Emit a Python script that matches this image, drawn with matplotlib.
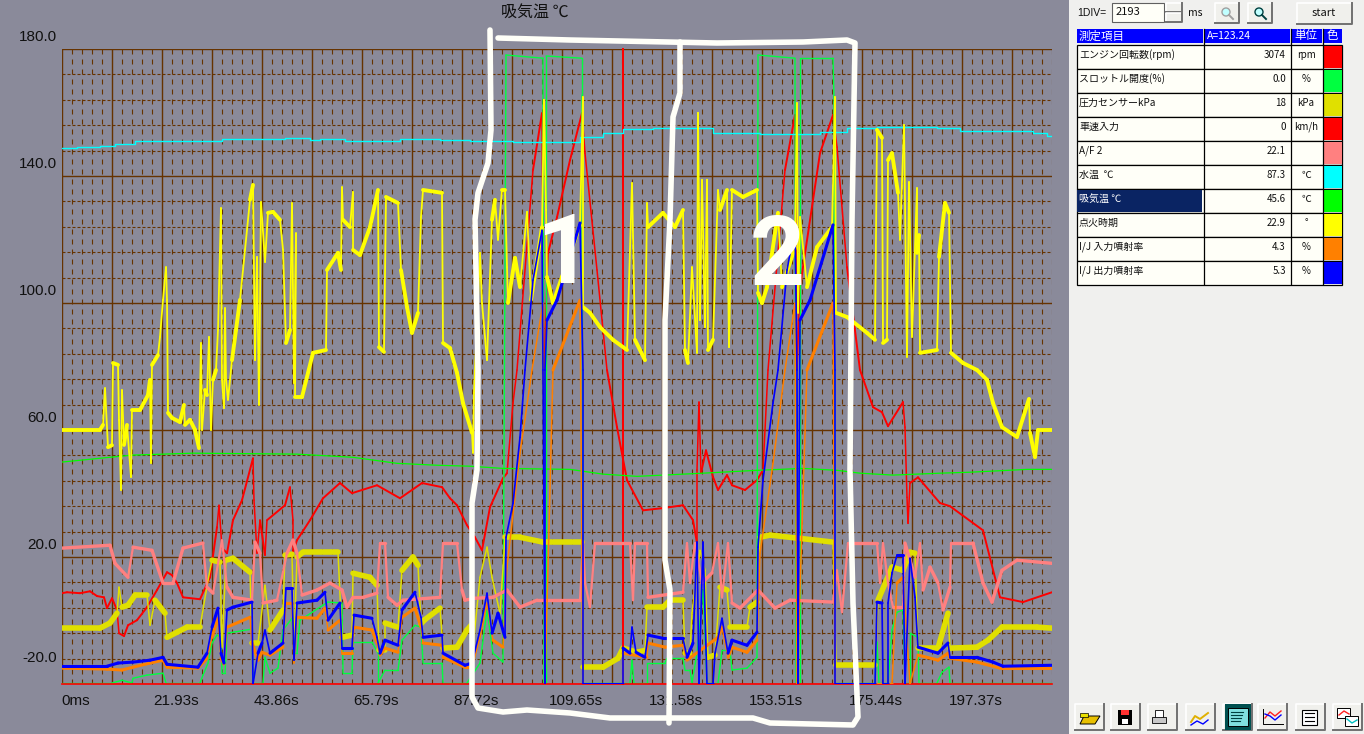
import numpy as np
import matplotlib
matplotlib.use('Agg')
import matplotlib.pyplot as plt
from matplotlib.collections import LineCollection
from matplotlib.patches import Rectangle, Polygon, Circle

JP = ['Noto Sans CJK JP', 'DejaVu Sans']
NARROW = ['Liberation Sans', 'DejaVu Sans']
plt.rcParams['font.family'] = JP

# one DIV on the logger is 2193 ms, traces are read in DIV / value
DIV_S = 2.193

ign_t = [0,3.8,4.1,4.3,4.6,5,5.1,5.6,5.7,5.9,6,6.2,6.5,6.9,7,7.8,8.6,8.8,8.9,9,9.6,9.8,10.1,10.4,10.5,10.6,11,11.8,12.2,12.3,12.8,13.3,13.7,13.9,14,14.3,14.5,14.7,14.9,15.1,15.4,15.6,15.9,16,16.2,16.3,16.4,16.6,17,17.4,17.8,18.3,18.8,19.1,19.3,19.5,19.7,19.9,20.3,20.6,21.1,21.8,22.1,22.4,22.8,23,23.2,23.4,23.3,24,25.1,26.4,26.5,27.6,27.9,28,28.1,28.8,29.1,29.1,29.8,30.8,31.6,31.7,32.2,32.4,33.6,33.9,34.5,35,35.6,35.9,36.1,38,38.1,38.8,39.5,40.1,41,41.1,41.2,41.8,42,42.5,43,43.3,43.6,44,44.3,44.5,44.6,45.3,45.8,46.5,46.9,48,48.2,48.4,48.5,49.1,50,51.3,51.8,52.1,52.1,52.8,53.8,55.1,56.5,57,57.3,58.3,58.5,58.6,60.1,61.3,62.1,62.3,62.6,63,63.5,63.6,63.8,64,64.3,64.5,64.6,65.1,65.6,65.8,66.5,66.7,67,68.1,69.5,69.6,70,70.5,71.6,72,73.3,73.5,73.6,73.8,74.5,75.5,77,77.3,77.4,78.5,80.5,81.3,81.5,82,82.1,82.5,82.6,83,83.6,83.8,84.2,84.5,84.7,85,85.5,85.5,85.7,85.8,87.5,87.7,88.3,88.7,88.9,90.1,91.5,92.5,93.1,94,95.5,96.7,96.8,97.3,97.6,99]
ign_v = [60,60,61.6,73.2,54.6,55.2,81.1,80.5,63.2,41.1,72.6,55.3,61.6,45.2,66.3,66.3,71,75.8,49.6,80.5,83.6,89.3,101,111.3,101,65.4,63.8,62.5,67.9,61.6,63.2,60,54.3,87.4,60,72.6,71,89.3,60,75.8,78.9,91.5,129.9,75.8,66.9,98.4,75.8,69.5,82,91.5,101,116.7,132.5,137.2,82,114.5,67.9,131.8,112.9,128.4,128.7,126.2,116.8,87.4,91.5,131.5,74.8,122,70.4,70.4,84.3,85.2,110.4,115.8,110.4,136.5,126.2,123.9,135,116.7,115.1,123.9,135.6,86.1,84.6,133.4,131.5,110.4,98.7,90.6,96.9,127.1,135.6,134.7,87.4,85.8,78,68.5,59.1,52.8,71.7,115.8,100,82,126.2,132.5,119.9,135.6,135.6,111.3,100,114.2,105,128.7,101,123.9,164,129.3,108.2,100,108.2,119.9,124.6,164.9,98.7,96.9,92.4,88.4,85.2,137.8,88.4,82,131.5,123.9,128.4,123.9,129.3,85.2,81.1,111.3,84.3,159.9,94.6,138.8,92.4,138.8,85.2,88.4,135.6,129.3,135.6,86.1,135.6,133.4,135.6,103.2,100,105,128.4,105,117.6,163,96.9,127.1,105,117.6,123.9,164.9,96.9,95.6,90.6,88.4,154.5,152,87.4,88.4,145,147.2,134.7,119.9,156.1,83,138.1,89.3,136.2,115.8,121.4,84.3,85.2,114.5,131.5,128.4,84.3,81.1,78.9,75.8,68.5,60.9,57.8,69.8,59.1,51.5,60,60]

water_t = [0,1.5,3.8,5.3,7.3,13.8,16,22.3,24.8,25.8,28.3,33.8,37.8,40.8,45.1,47.8,51.8,54.1,56.1,59.1,65.1,69.8,73.1,75.8,78.5,81.5,87.5,89.8,95.1,97.1,98.5,99]
water_v = [148.8,149.1,149.4,150,151,151,151.6,151.9,151.3,151.6,151,151.6,151.3,151,150.7,150.7,152.2,153.5,154.8,155.1,153.5,153.2,153.2,153.8,155.1,155.4,155.1,154.1,154.1,153.5,152.6,152.6]

intake_t = [0,3.8,7.1,13.1,23.5,29.1,33.5,37.5,40.8,44.1,50.8,54.1,57.5,64.1,69.5,74.1,77.5,79.8,83.1,87.8,90.8,96.5,99]
intake_v = [49.9,51.1,52.1,52.7,52.4,51.4,49.5,48.9,48.6,47.9,47.6,46.1,45.4,46.4,47.3,47.9,47.3,46.4,45.8,46.4,46.7,47.6,47.6]

rpm_t = [0,0.5,1.8,2.8,3.5,4.2,4.5,5,5.5,5.7,6.2,6.6,7.5,8.5,9.5,10.5,11,11.5,12.1,13.8,14.8,15.5,15.7,16,16.5,17.1,18,19.1,19.2,19.5,19.8,20.3,20.5,22.3,22.8,23.1,23.1,23.5,24.8,26.1,27.8,29,31.5,33.8,36,38,38.8,39.5,40.5,41.3,42,42.8,44.1,44.5,45.1,45.5,47.1,48,48.2,48.6,49.5,50.8,52,52.3,53.5,54.5,55.5,56.5,58.1,60.1,62.1,63.1,63.5,63.5,63.7,63.9,64.4,65.1,65.6,66.5,67,68.3,69.5,70.1,70.6,72.3,73.3,73.5,73.8,75.8,77.1,77.5,78.5,79.8,81.1,82,82.6,84.1,84.3,84.5,84.6,84.8,85.6,87.8,88.8,92.1,93.8,96.1,99]
rpm_v = [8.6,8.9,8.6,9.2,7.7,7.3,3.9,7,3.3,-4,-4.9,-1.5,0.1,4.2,9.6,15.2,14.3,11.8,7.3,6.7,13.6,29.4,36.3,22.8,21.2,31.6,37.9,51.1,37.9,21.2,31.6,20.6,31.6,36.3,42,31.6,21.5,25.3,31.6,38.5,43.3,40.1,42.6,38.5,43.3,42,38.5,36.3,30,26.2,22.1,35.7,44.8,46.4,68.5,78.9,141.9,159.8,78.9,115.7,127,145,159.8,147.2,110.4,78.9,60.9,44.2,34.7,35.4,36.3,31.6,24.4,47.4,68.8,46.4,53.6,45.2,41.1,45.8,42.6,41.1,44.2,47.4,78.9,141.9,159.2,78.9,105,147.2,159.2,149.1,111.3,78.9,67.2,65.6,61.2,68.8,60.9,38.8,30.6,43.3,45.1,37,36,28.4,7.3,5.8,8.9]

speed_t = [0,56.1,56.1,56.1,99]
speed_v = [-20,-20,180,-20,-20]

throttle_t = [0,5,6,7,7.1,8.5,10.1,10.4,13.8,14.1,14.6,15,15.5,15.9,16,16.3,16.5,19,19.1,20.1,20.3,20.8,21.6,22.1,23,23.2,23.5,23.8,26.1,26.6,28,28.1,29,29.1,31,31.6,31.6,32.3,33.6,34,35.3,35.9,36.1,38,38.1,40.5,41.8,42.5,43.1,44.1,44.4,48.1,48.2,48.4,48.4,52,52,52.1,56.8,57,57.2,58.5,58.5,60.3,60.5,62.1,62.3,62.8,63,63.5,64.1,64.5,65.6,66,66.8,67,68.5,69.5,69.6,73.3,73.4,73.8,73.8,77.1,77.2,77.3,81.3,81.5,81.7,82.6,83,83.5,84.1,84.3,84.8,84.8,85.6,85.7,87.5,88,88.7,88.8,99]
throttle_v = [-19.7,-19.7,-18.8,-19.7,-18.2,-17.2,-16.6,-19.7,-19.7,-17.2,-13.4,-7.1,-4.6,-5.3,-16.6,-16.6,-4,-2.7,-19.7,-19.7,-11.6,-16.6,-15,-3,0.7,-10.3,-10.3,0.1,4.8,5.8,5.5,-16.6,-16.6,-6.8,-6.8,-10.3,-19.7,-15.6,-15.6,-6.2,-1.5,-2.1,-13.4,-13.4,-19.7,-19.7,-13.4,3.3,-10.3,-13.1,178.1,177.1,-19.7,-19.7,177.8,177.1,165.5,-19.7,-19.7,-12.5,-19.7,-19.7,-13.4,-13.4,-11.9,-11.9,-15.6,-15.6,-19.7,-10.3,9.6,-19.7,-19.7,-9.4,-9.4,-15.6,-15,-11.6,178.1,177.1,-19.7,-19.7,177.1,177.1,164.9,-19.7,-19.7,-6.8,-19.7,-19.7,-3,2.6,3.3,-19.7,-19.7,-4,-5.3,-19.7,-19.7,-16.3,-14.7,-19.7,-19.7]

press_t = [0,3.8,4.8,5.5,5.7,6,6.6,7.3,8.5,8.8,9.3,10.3,10.5,11.5,12.5,13.8,14.6,15,15.8,16,16.4,17.1,18.8,19,19.6,20.3,20.8,22.1,22.3,23,23.2,23.5,24.1,27.6,28,29,29.1,30.8,31.5,31.7,32.3,32.3,33.6,34,35.1,35.6,35.9,36.3,37.8,38.1,39.5,40.5,41.1,41.1,41.8,42.5,43,43.8,44.3,45.8,48.1,52,52.1,54.1,55.6,56.1,57.5,58.3,58.5,60.1,60.8,62.1,62.3,62.8,63,63.8,64.3,64.6,65.3,65.8,66.5,66.8,68.5,68.8,69.5,69.8,70.8,77.1,77.4,81.3,81.6,83,84.1,84.8,85.3,85.6,87.6,88.6,88.8,91.5,92.6,94,97.5,99]
press_v = [-2.4,-2.4,-0.8,2.3,10.5,4.2,4.8,8,8,-1.5,6.4,2.3,-5.3,-3.7,-2.1,-2.1,12.7,19,18.4,-8.4,19,19.6,15.2,-7.1,-7.1,11.1,-3,3.3,20.6,20.9,-8.4,20,21.5,21.5,-5.3,-4.6,14.9,13.6,11.1,-9.4,-9.4,-0.8,-2.1,15.8,20,17.4,-1,0.3,3.9,-8.7,-8.4,-3,-0.8,-8.4,13.6,23.1,13.6,2.3,26.2,26.2,24.7,24.7,-14.7,-14.7,-11.9,-8.7,-10,-9.4,4.2,4.2,6.4,6.4,-10.3,-10.3,2.3,22.1,15.8,-11.6,-10.9,10.5,9.6,-2.1,-2.1,4.2,5.8,26.2,26.9,24.7,-14.1,-14.1,6.4,16.8,15.8,21.5,21.2,-8.7,-8.7,2.3,-8.7,-8.4,-6.2,-2.1,-2.1,-2.4]

af_t = [0,4.8,5.3,6.6,7.1,9,10.1,11.1,12.1,14.1,14.5,15.1,16,16.5,17.1,19,19.3,19.8,20.1,21.5,22.5,23.1,23.5,24,25.5,26.8,28,28.5,29.1,30.1,31.5,31.8,32.3,32.6,33.5,34.1,37.8,38.1,39.5,40,40.3,41.3,43.1,44.5,45.8,47.5,51.8,52.1,52.3,52.8,53.3,56.8,57.1,57.3,58.5,58.6,62.1,62.5,62.8,63.3,64,65,65.6,66,66.6,67,67.8,69.6,71.3,72.8,77.1,77.5,78,78.6,81.5,81.8,82.1,82.6,83.1,84.1,84.3,85.3,85.8,86.1,86.8,87.6,88.1,88.8,88.9,91.1,92.1,93,93.6,94,95.5,99]
af_v = [22.8,23.7,18,13.6,23.1,22.1,11.8,11.8,22.8,24.4,10.5,8.6,25.3,10.5,7.3,6.4,24.7,21.2,5.5,6.4,21.2,25.3,21.2,8,9.6,11.8,9.6,4.2,7.3,7.3,8.6,24.4,24.4,7.3,4.8,6.4,7.3,24.4,24.4,9.6,6.4,7,7.3,9.6,4.2,6.4,6.4,24.7,11.8,4.2,24.4,24.4,6.4,24.4,24.4,7.3,8.9,24.4,11.8,24.4,11.8,15,24.4,7.3,24.4,5.5,3.9,9.6,3.9,6.4,5.8,15.8,2.6,24.4,24.4,11.8,24.4,11.8,4.2,4.2,24.4,13.6,24.4,9.6,16.8,11.8,3.3,10.5,24.4,24.4,11.8,5.8,11.8,15.8,19,18]

inj_out_t = [0,4.5,5.6,7.1,8.8,10.1,10.5,13.6,14.5,15,15.6,15.9,16.2,16.5,17.1,19,19.1,19.6,20,20.3,20.8,22.1,22.4,23,23.2,23.5,25.5,26.3,26.6,27.8,28,29,29.2,31,31.5,31.8,32.3,33.6,34,35.3,35.9,36.1,38,38.1,40.3,41,41.8,42.5,43,43.6,44.3,44.4,45.1,45.8,46.3,47.1,48,48.1,48.3,48.3,48.5,49.5,51.8,52.1,52.1,56.1,56.1,56.8,57,57.4,58.3,58.6,60.1,62.1,62.5,63.1,63.5,63.7,64.1,64.5,65.1,65.3,66,66.6,67,68.5,69.5,69.6,70.1,71.1,71.6,72.5,73.3,73.5,73.6,73.8,74.8,77.1,77.3,77.3,81.3,81.5,82,82.1,82.6,82.6,83,83.5,84.1,84.3,84.8,85.3,85.6,87.6,88.6,88.8,91.5,93.1,94.1,99]
inj_out_v = [-14.4,-14.4,-13.4,-13.1,-12.5,-11.6,-13.8,-14.7,-10.3,-2.1,3.9,-10.3,-13.4,3.3,4.2,5.8,-20,-10.3,-7.1,-3,-10.3,-7.1,10.2,10.2,-12.5,5.5,6.4,8.9,0.1,5.5,-8.7,-8.7,1.7,0.7,-5.3,-10.3,-6.2,-7.8,3.3,8.9,1,-5.3,-4.6,-10.3,-14.1,-13.4,-3,8.6,-4,2.3,-5.3,26.2,36.9,57.7,78.9,107.2,122.9,78.9,-20,78.9,94.6,100.9,125.2,78.9,-20,-20,-8.7,-10.3,-2.1,-10,-11.6,-4.6,-5.6,-5.6,-11.6,-7.1,24.7,-20,24.7,-20,-20,-10.3,0.7,-10.3,-6.2,-7.8,-3.7,23.1,44.2,68.5,78.9,110.4,123.9,78.9,-20,94.6,100.9,124.6,78.9,-20,-20,5.8,5.5,-20,-20,5.5,15,20.6,20.6,-20,19.6,7.3,-8.4,-10.3,-7.1,-11.6,-11.6,-13.1,-14.4,-14.1]

inj_in_t = [0,4.5,6,7.1,8.8,10.1,10.5,13.6,14.5,15,15.6,15.9,16.2,16.5,18.8,19,19.6,20,20.8,22.1,22.4,23,23.2,23.5,25.5,26.3,26.6,27.8,28,29,29.2,31,31.5,31.8,32.3,33.6,34,35.3,35.9,36.1,38,38.1,40.3,41,41.8,42.5,43.1,44.1,44.5,45.8,47,48.1,48.3,49.1,51.8,52.1,56.1,56.1,58.5,58.6,60.3,62.1,62.5,65.6,66,66.6,67,68.5,69.5,69.8,71.1,72.3,73.3,73.5,74.5,77.1,77.3,83,83.5,84.1,84.8,85.6,87.6,88.6,88.8,91.5,93.8,99]
inj_in_v = [-15,-15.3,-15.6,-14.7,-13.4,-12.5,-14.7,-15,-11.9,-5.3,0.7,-11.9,-13.7,-2.1,1,-7,-12.5,-10,-10.9,-8.4,5.5,5.5,-13.4,1,0.7,3.9,-3,0.1,-10.3,-10.3,-2.1,-3,-7.1,-10.9,-8.7,-10,1,3.9,-2.1,-7.1,-7.8,-11.6,-14.7,-14.7,-5.3,5.5,-6.2,-8.4,16.8,52.7,78.9,100,-20,78.9,100.9,-20,-20,-10.3,-11.6,-7.1,-8.4,-7.8,-12.5,-5.3,-2.1,-11.6,-8.4,-10,-6.2,21.2,49.5,78.9,100,-20,78.9,100,-20,-20,11.8,13.6,-20,-10.9,-12.5,-10.3,-11.9,-13.1,-15,-15]

item_names = ['エンジン回転数(rpm)', 'スロットル開度(%)', '圧力センサーkPa', '車速入力', 'A/F 2', '水温  ℃', '吸気温 ℃', '点火時期', 'I/J 入力噴射率', 'I/J 出力噴射率']
item_values = ['3074', '0.0', '18', '0', '22.1', '87.3', '45.6', '22.9', '4.3', '5.3']
item_units = ['rpm', '%', 'kPa', 'km/h', '', '℃', '℃', '°', '%', '%']
item_colors = ['#ff0000', '#00ff40', '#e0e000', '#ff0000', '#ff8080', '#00ffff', '#00ff00', '#ffff00', '#ff8000', '#0000ff']
tick_labels = ['0ms', '21.93s', '43.86s', '65.79s', '87.72s', '109.65s', '131.58s', '153.51s', '175.44s', '197.37s']
y_ticks = [180, 140, 100, 60, 20, -20]

BG = '#8a8a9a'
GRID = '#663300'
WHITE = '#fffff8'

fig = plt.figure(figsize=(13.64, 7.34), dpi=100, facecolor=BG)
ax = fig.add_axes([62/1364, (734-684)/734, 990/1364, 635/734], facecolor=BG)
ax.set_xlim(0, 99*DIV_S)
ax.set_ylim(-20, 180)
for s in ax.spines.values():
    s.set_visible(False)
ax.set_xticks([])
ax.set_yticks([])

# grid: solid every 5 DIV / 40 deg, dashes in between
for d in range(100):
    x = d*DIV_S
    if d % 5 == 0:
        ax.axvline(x, color=GRID, lw=1.0, zorder=1)
    else:
        ax.axvline(x, color=GRID, lw=0.8, ls=(0, (4.5, 4.5)), zorder=1)
for v in range(-20, 181, 8):
    if (v + 20) % 40 == 0:
        ax.axhline(v, color=GRID, lw=1.0, zorder=1)
    else:
        ax.axhline(v, color=GRID, lw=0.8, ls=(0, (2.7, 1.8)), zorder=1)


def trace(t, v, color, thick, z, thin=1.0, steep=5):
    # flat stretches were noisy bands in the log, so they get a wider pen
    t = np.array(t, dtype=float)
    v = np.array(v, dtype=float)
    pts = np.column_stack([t*DIV_S, v])
    segs = np.stack([pts[:-1], pts[1:]], axis=1)
    dx = np.abs(np.diff(t))*10
    dy = np.abs(np.diff(v))/0.315
    widths = np.where(dy <= steep*dx, thick, thin)
    ax.add_collection(LineCollection(segs, colors=color, linewidths=widths, capstyle='round', zorder=z))


trace(rpm_t, rpm_v, item_colors[0], 1.4, 3, thin=1.1, steep=8)
trace(throttle_t, throttle_v, item_colors[1], 1.0, 4)
trace(press_t, press_v, item_colors[2], 4.0, 5, thin=1.1, steep=4)
ax.plot(np.array(speed_t)*DIV_S, speed_v, color=item_colors[3], lw=1.2, zorder=6, clip_on=False)
trace(af_t, af_v, item_colors[4], 2.4, 7, thin=1.6, steep=4)
ax.plot(np.array(water_t)*DIV_S, water_v, color=item_colors[5], lw=1.0, zorder=8, drawstyle='steps-post')
ax.plot(np.array(intake_t)*DIV_S, intake_v, color=item_colors[6], lw=0.9, zorder=9)
trace(ign_t, ign_v, item_colors[7], 2.8, 10, thin=1.3, steep=9)
trace(inj_in_t, inj_in_v, item_colors[8], 2.2, 11, thin=1.1, steep=3.5)
trace(inj_out_t, inj_out_v, item_colors[9], 2.2, 12, thin=1.2, steep=3.5)

for i, lab in enumerate(tick_labels):
    ax.annotate(lab, (i*10*DIV_S, -20), xytext=(14, -17), textcoords='offset pixels', ha='center', va='center',
                fontsize=11, family=NARROW, color='#101010', annotation_clip=False)
for v in y_ticks:
    off = 26 if v == -20 else 12
    ax.annotate('%.1f' % v, (0, v), xytext=(-5, off), textcoords='offset pixels', ha='right', va='center',
                fontsize=11, family=NARROW, color='#101010', annotation_clip=False)
fig.text(535/1364, 1-12/734, '吸気温 ℃', ha='center', va='center', fontsize=11.5, color='#101010')

# everything else sits on an overlay in screen pixels
ui = fig.add_axes([0, 0, 1, 1], zorder=5)
ui.set_xlim(0, 1364)
ui.set_ylim(734, 0)
ui.axis('off')


def box(x, y, w, h, fc, ec='none', lw=0.8, z=1):
    ui.add_patch(Rectangle((x, y), w, h, facecolor=fc, edgecolor=ec, lw=lw, zorder=z))


def button(x, y, w, h, fc='#f0f0ec'):
    box(x, y, w, h, fc)
    ui.plot([x, x, x+w], [y+h, y, y], color='#ffffff', lw=1.2, zorder=2)
    ui.plot([x, x+w, x+w], [y+h, y+h, y], color='#707070', lw=1.4, zorder=2)


def lens(x, y, color):
    ui.add_patch(Circle((x, y), 4, facecolor='#c0ffff', edgecolor=color, lw=1, zorder=3))
    ui.plot([x+3, x+7], [y+3, y+7], color=color, lw=1.4, zorder=3)


box(1069, 0, 295, 734, '#f0f0ee')

# hand drawn marks
white_paths = [
    ([490, 491, 488, 478, 475, 478, 477, 472, 472, 478, 503, 527, 570, 610, 703, 753, 770, 853, 858, 853, 850, 852, 855, 847, 803, 717, 570, 498],
     [30, 130, 163, 193, 220, 370, 470, 503, 697, 708, 712, 710, 713, 718, 718, 718, 723, 725, 717, 603, 470, 220, 43, 40, 42, 43, 40, 38]),
    ([680, 680, 673, 670, 665, 665, 665, 670, 669],
     [42, 93, 117, 220, 320, 370, 560, 590, 723]),
]
for px, py in white_paths:
    ui.plot(px, py, color=WHITE, lw=4, solid_capstyle='round', solid_joinstyle='round', zorder=3)
ui.text(564, 283, '1', fontsize=69, fontweight='bold', family='Roboto', color=WHITE, ha='center', va='baseline', zorder=4)
ui.text(777, 285, '2', fontsize=69, fontweight='bold', family='Roboto', color=WHITE, ha='center', va='baseline', zorder=4)

# top controls
ui.text(1077, 13, '1DIV=', fontsize=7.5, va='center', color='#101010', family=NARROW)
box(1112, 3, 52, 19, '#fffff8', ec='#606060')
ui.text(1116, 12, '2193', fontsize=8, va='center', color='#101010')
button(1166, 3, 16, 9)
button(1166, 13, 16, 9)
ui.text(1188, 13, 'ms', fontsize=7.5, va='center', color='#101010')
button(1215, 3, 24, 20)
button(1248, 3, 24, 20)
lens(1226, 12, '#a0a0a0')
lens(1259, 12, '#004040')
button(1297, 3, 55, 21)
ui.text(1324, 13, 'start', fontsize=8, ha='center', va='center', color='#101010')

# table
col_x = [1077, 1204, 1291, 1323, 1342]
box(1077, 29, 126, 14, '#0000ff')
box(1204, 29, 86, 14, '#0000ff')
box(1291, 29, 31, 14, '#0000ff')
box(1323, 29, 19, 14, '#0000ff')
ui.text(1079, 36, '測定項目', fontsize=8.3, color='white', va='center')
ui.text(1207, 36, 'A=123.24', fontsize=7.5, color='white', va='center')
ui.text(1306, 36, '単位', fontsize=8.3, color='white', va='center', ha='center')
ui.text(1332, 36, '色', fontsize=8.3, color='white', va='center', ha='center')
for i, name in enumerate(item_names):
    top = 45 + i*24
    box(1077, top, 265, 24, '#fffff8', ec='black', lw=0.9)
    if i == 6:
        box(1077, top+1, 125, 22, '#0a2463', z=2)
    ui.text(1079, top+10, name, fontsize=7.2, va='center', zorder=3, color='white' if i == 6 else '#101010')
    ui.text(1286, top+10, item_values[i], fontsize=7, va='center', ha='right', color='#101010', zorder=3)
    ui.text(1306, top+10, item_units[i], fontsize=7, va='center', ha='center', color='#101010', zorder=3)
    box(1323, top+1, 19, 22, item_colors[i], z=2)
for x in col_x[1:4]:
    ui.plot([x-0.5, x-0.5], [29, 284], color='black', lw=0.9, zorder=3)

# toolbar
tool_x = [1075, 1111, 1148, 1186, 1223, 1258, 1296, 1333]
for x in tool_x:
    button(x, 704, 29, 26)
ui.add_patch(Polygon([(1080, 724), (1084, 716), (1100, 716), (1095, 724)], facecolor='#e8c000', edgecolor='black', lw=0.7, zorder=3))
box(1080, 713, 8, 4, '#e8e000', ec='black', lw=0.5, z=3)
box(1118, 710, 14, 15, 'black', z=3)
box(1121, 710, 8, 5, '#ff3030', z=4)
box(1122, 719, 6, 5, 'white', z=4)
box(1155, 710, 8, 8, 'white', ec='black', lw=0.6, z=3)
box(1152, 717, 14, 6, '#c8c8c8', ec='black', lw=0.6, z=4)
ui.plot([1191, 1195, 1200, 1208], [722, 716, 719, 713], color='#e0b000', lw=1.4, zorder=3)
ui.plot([1191, 1197, 1203, 1208], [725, 721, 724, 720], color='#0000ff', lw=1, zorder=3)
box(1225, 704, 26, 26, '#005050', z=3)
box(1228, 708, 20, 18, '#80e0e0', ec='black', lw=0.7, z=4)
for k in range(4):
    ui.plot([1231, 1243 - k], [712+k*3, 712+k*3], color='#004040', lw=0.8, zorder=5)
ui.plot([1263, 1263, 1283], [709, 724, 724], color='black', lw=0.7, zorder=3)
ui.plot([1265, 1270, 1275, 1281], [718, 712, 716, 711], color='#ff2020', lw=1, zorder=3)
ui.plot([1265, 1270, 1275, 1281], [714, 716, 720, 715], color='#0000ff', lw=1, zorder=3)
box(1302, 710, 15, 15, 'white', ec='black', lw=0.8, z=3)
for k in range(3):
    ui.plot([1305, 1314], [713+k*4, 713+k*4], color='black', lw=0.8, zorder=4)
box(1337, 708, 13, 10, 'white', ec='black', lw=0.7, z=3)
box(1345, 716, 13, 10, 'white', ec='black', lw=0.7, z=4)
ui.plot([1339, 1344, 1349], [715, 711, 714], color='#ff2020', lw=1, zorder=5)
ui.plot([1347, 1352, 1357], [719, 723, 720], color='#00c0c0', lw=1, zorder=5)

fig.savefig('out.png', dpi=100, facecolor=BG)
